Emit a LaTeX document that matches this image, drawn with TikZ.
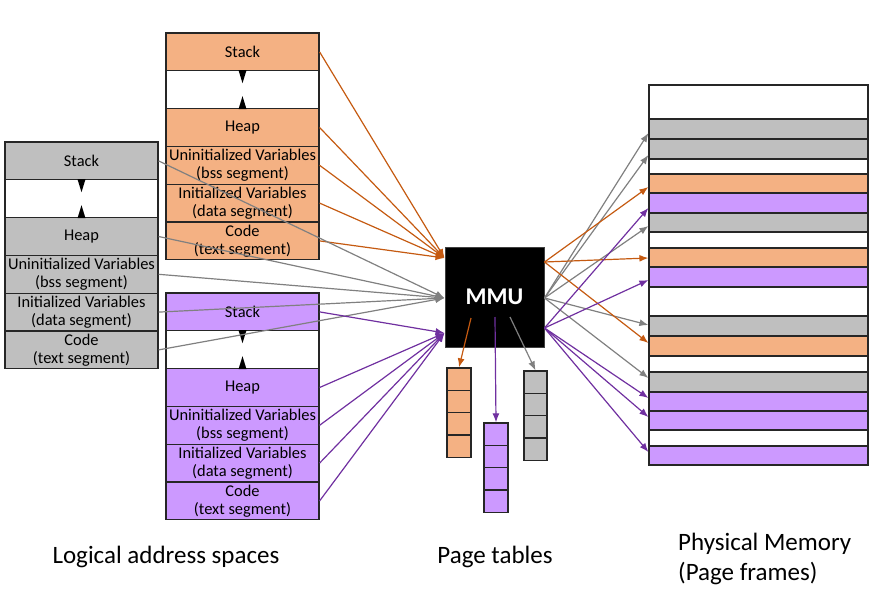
\documentclass[tikz,border=0pt]{standalone}
\usepackage{fontspec}
\setmainfont{Carlito}
\usetikzlibrary{arrows.meta,calc}
\definecolor{orfill}{HTML}{F4B183}
\definecolor{pufill}{HTML}{CC99FF}
\definecolor{grfill}{HTML}{BFBFBF}
\definecolor{orline}{HTML}{C55A11}
\definecolor{puline}{HTML}{7030A0}
\definecolor{grline}{HTML}{808080}
\definecolor{boxline}{HTML}{262626}
\begin{document}
\begin{tikzpicture}[x=1pt,y=-1pt,
 seg/.style={draw=boxline,line width=1.2pt,minimum width=153pt,minimum height=37.8pt,inner sep=0pt,align=center,font=\fontsize{16.4}{18}\selectfont},
 ptcell/.style={draw=boxline,line width=1.3pt,minimum width=24pt,minimum height=22.3pt,inner sep=0pt},
 pmrow/.style={draw=boxline,line width=1.2pt,minimum width=219pt,inner sep=0pt},
 arr/.style={line width=1.2pt,-{Latex[length=9pt,width=7pt]}},
 lbl/.style={font=\fontsize{25}{30}\selectfont,inner sep=0pt},
 gaptri/.style={fill=black}]
\useasboundingbox (0,0) rectangle (893,607);

% orange address space
\node[seg,fill=orfill] (os) at (242.5,51.9) {Stack};
\node[seg,fill=white] (og) at (242.5,89.7) {};
\node[seg,fill=orfill] (oh) at (242.5,127.5) {Heap};
\node[seg,fill=orfill] (ou) at (242.5,165.3) {Uninitialized Variables\\(bss segment)};
\node[seg,fill=orfill] (oi) at (242.5,203.1) {Initialized Variables\\(data segment)};
\node[seg,fill=orfill] (oc) at (242.5,240.9) {Code\\(text segment)};
% gray address space
\node[seg,fill=grfill] (gs) at (81.5,160.9) {Stack};
\node[seg,fill=white] (gg) at (81.5,198.7) {};
\node[seg,fill=grfill] (gh) at (81.5,236.5) {Heap};
\node[seg,fill=grfill] (gu) at (81.5,274.3) {Uninitialized Variables\\(bss segment)};
\node[seg,fill=grfill] (gi) at (81.5,312.1) {Initialized Variables\\(data segment)};
\node[seg,fill=grfill] (gc) at (81.5,349.9) {Code\\(text segment)};
% purple address space
\node[seg,fill=pufill] (ps) at (242.5,311.9) {Stack};
\node[seg,fill=white] (pg) at (242.5,349.7) {};
\node[seg,fill=pufill] (ph) at (242.5,387.5) {Heap};
\node[seg,fill=pufill] (pu) at (242.5,425.3) {Uninitialized Variables\\(bss segment)};
\node[seg,fill=pufill] (pi) at (242.5,463.1) {Initialized Variables\\(data segment)};
\node[seg,fill=pufill] (pc) at (242.5,500.9) {Code\\(text segment)};

% gap triangles
\foreach \g in {og,gg,pg}{
  \fill[gaptri] (\g.north) ++(-4,0) -- ++(8,0) -- ++(-4,13) -- cycle;
  \fill[gaptri] (\g.south) ++(-4,0) -- ++(8,0) -- ++(-4,-13) -- cycle;
}

% MMU
\node[fill=black,draw=black!75,line width=1pt,minimum width=99pt,minimum height=100pt,inner sep=0pt,text=white,font=\fontsize{24}{24}\selectfont\bfseries] (mmu) at (494.5,297) {MMU};
\coordinate (oin) at ($(mmu.west)+(0,-39)$);
\coordinate (gin) at ($(mmu.west)+(0,1)$);
\coordinate (pin) at ($(mmu.west)+(0,36)$);
\coordinate (oout) at ($(mmu.east)+(0,-35)$);
\coordinate (gout) at ($(mmu.east)+(0,1)$);
\coordinate (pout) at ($(mmu.east)+(0,31)$);
\coordinate (odn) at ($(mmu.center)+(-23.5,21)$);
\coordinate (pdn) at ($(mmu.center)+(0.5,20)$);
\coordinate (gdn) at ($(mmu.center)+(15.5,20)$);

% page tables
\node[ptcell,fill=orfill] (ot1) at (459,379.15) {};
\node[ptcell,fill=orfill] (ot2) at (459,401.45) {};
\node[ptcell,fill=orfill] (ot3) at (459,423.75) {};
\node[ptcell,fill=orfill] (ot4) at (459,446.05) {};
\node[ptcell,fill=pufill] (pt1) at (496,434.15) {};
\node[ptcell,fill=pufill] (pt2) at (496,456.45) {};
\node[ptcell,fill=pufill] (pt3) at (496,478.75) {};
\node[ptcell,fill=pufill] (pt4) at (496,501.05) {};
\node[ptcell,fill=grfill,minimum width=23pt] (gt1) at (535.5,382.15) {};
\node[ptcell,fill=grfill,minimum width=23pt] (gt2) at (535.5,404.45) {};
\node[ptcell,fill=grfill,minimum width=23pt] (gt3) at (535.5,426.75) {};
\node[ptcell,fill=grfill,minimum width=23pt] (gt4) at (535.5,449.05) {};

% physical memory
\node[pmrow,fill=white,minimum height=34pt] (pm1) at (758.5,102) {};
\node[pmrow,fill=grfill,minimum height=20pt] (pm2) at (758.5,129) {};
\node[pmrow,fill=grfill,minimum height=20pt] (pm3) at (758.5,149) {};
\node[pmrow,fill=white,minimum height=15pt] (pm4) at (758.5,166.5) {};
\node[pmrow,fill=orfill,minimum height=19pt] (pm5) at (758.5,183.5) {};
\node[pmrow,fill=pufill,minimum height=20pt] (pm6) at (758.5,203) {};
\node[pmrow,fill=grfill,minimum height=19pt] (pm7) at (758.5,222.5) {};
\node[pmrow,fill=white,minimum height=16pt] (pm8) at (758.5,240) {};
\node[pmrow,fill=orfill,minimum height=19pt] (pm9) at (758.5,257.5) {};
\node[pmrow,fill=pufill,minimum height=20pt] (pm10) at (758.5,277) {};
\node[pmrow,fill=white,minimum height=29pt] (pm11) at (758.5,301.5) {};
\node[pmrow,fill=grfill,minimum height=20pt] (pm12) at (758.5,326) {};
\node[pmrow,fill=orfill,minimum height=20pt] (pm13) at (758.5,346) {};
\node[pmrow,fill=white,minimum height=16pt] (pm14) at (758.5,364) {};
\node[pmrow,fill=grfill,minimum height=20pt] (pm15) at (758.5,382) {};
\node[pmrow,fill=pufill,minimum height=19pt] (pm16) at (758.5,401.5) {};
\node[pmrow,fill=pufill,minimum height=19pt] (pm17) at (758.5,420.5) {};
\node[pmrow,fill=white,minimum height=16pt] (pm18) at (758.5,438) {};
\node[pmrow,fill=pufill,minimum height=19pt] (pm19) at (758.5,455.5) {};

% arrows into MMU
\foreach \s in {os,oh,ou,oi,oc} \draw[arr,orline] (\s.east) -- (oin);
\foreach \s in {gs,gh,gu,gi,gc} \draw[arr,grline] (\s.east) -- (gin);
\foreach \s in {ps,ph,pu,pi,pc} \draw[arr,puline] (\s.east) -- (pin);

% MMU to page tables
\draw[arr,orline] (odn) -- (ot1.north);
\draw[arr,puline] (pdn) -- (pt1.north);
\draw[arr,grline] (gdn) -- (gt1.north);

% MMU to physical memory
\draw[arr,grline] (gout) -- ($(pm2.west)+(0,4)$);
\draw[arr,grline] (gout) -- ($(pm3.west)+(0,6)$);
\draw[arr,grline] (gout) -- ($(pm7.west)+(0,3.5)$);
\draw[arr,grline] (gout) -- ($(pm12.west)+(0,-1)$);
\draw[arr,grline] (gout) -- ($(pm15.west)+(0,-4)$);
\draw[arr,orline] (oout) -- ($(pm5.west)+(0,3.5)$);
\draw[arr,orline] (oout) -- ($(pm9.west)+(0,0.5)$);
\draw[arr,orline] (oout) -- ($(pm13.west)+(0,-3)$);
\draw[arr,puline] (pout) -- ($(pm6.west)+(0,5)$);
\draw[arr,puline] (pout) -- ($(pm10.west)+(0,3)$);
\draw[arr,puline] (pout) -- ($(pm16.west)+(0,-3.5)$);
\draw[arr,puline] (pout) -- ($(pm17.west)+(0,-3.5)$);
\draw[arr,puline] (pout) -- ($(pm19.west)+(0,-3.5)$);

% labels
\node[lbl] (l1) at (166,557) {Logical address spaces};
\node[lbl] (l2) at (495,557) {Page tables};
\node[lbl,anchor=west,align=left] (l3) at (678,559) {Physical Memory\\(Page frames)};
\end{tikzpicture}
\end{document}
